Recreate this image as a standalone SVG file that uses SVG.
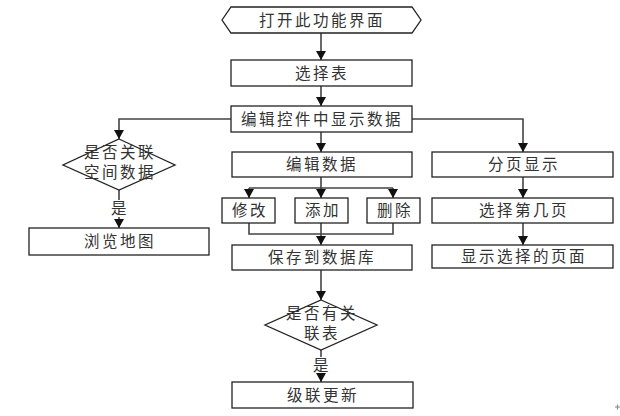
<svg xmlns="http://www.w3.org/2000/svg" width="620" height="416" viewBox="0 0 620 416">
<defs>
<marker id="arr" markerUnits="userSpaceOnUse" markerWidth="9" markerHeight="10" refX="9" refY="5" orient="auto" viewBox="0 0 9 10">
<path d="M0,0 L9,5 L0,10 Z" fill="#111"/>
</marker>
<style>
.n{fill:#fff;stroke:#222;stroke-width:1.3}
.t{font-family:"Noto Sans CJK SC","Noto Sans CJK JP",sans-serif;font-size:15.5px;fill:#333;text-anchor:middle;letter-spacing:2.5px}
.c{fill:none;stroke:#444;stroke-width:1.6}
.a{marker-end:url(#arr)}
</style>
</defs>
<rect width="620" height="416" fill="#fff"/>
<g id="connectors">
<path class="c a" d="M321,33 V60"/>
<path class="c a" d="M321,86 V106"/>
<path class="c a" d="M231,119 H119 V139"/>
<path class="c a" d="M412,119 H523 V152"/>
<path class="c a" d="M321,132 V152"/>
<path class="c" d="M119,190 V200"/>
<path class="c a" d="M119,217 V228"/>
<path class="c" d="M321,177 V188 M249,188 H393"/>
<path class="c a" d="M249,188 V198"/>
<path class="c a" d="M321,188 V198"/>
<path class="c a" d="M393,188 V198"/>
<path class="c" d="M249,223 V234 H393 V223"/>
<path class="c a" d="M321,223 V245"/>
<path class="c a" d="M321,270 V300"/>
<path class="c" d="M321,350 V357"/>
<path class="c a" d="M321,373 V382"/>
<path class="c a" d="M523,177 V198"/>
<path class="c a" d="M523,223 V245"/>
</g>
<g id="start">
<polygon class="n" points="222,20 231,7 412,7 421,20 412,33 231,33"/>
<text class="t" x="322" y="26">打开此功能界面</text>
</g>
<g id="select-table">
<rect class="n" x="231" y="60" width="181" height="26"/>
<text class="t" x="322" y="79">选择表</text>
</g>
<g id="show-data">
<rect class="n" x="231" y="106" width="181" height="26"/>
<text class="t" x="322" y="125">编辑控件中显示数据</text>
</g>
<g id="spatial-decision">
<polygon class="n" points="119,139 175,165 119,190 63,165"/>
<text class="t" x="120" y="158">是否关联</text>
<text class="t" x="120" y="178">空间数据</text>
</g>
<g id="yes1"><text class="t" x="120" y="214">是</text></g>
<g id="browse-map">
<rect class="n" x="29" y="228" width="180" height="27"/>
<text class="t" x="120" y="247">浏览地图</text>
</g>
<g id="edit-data">
<rect class="n" x="232" y="152" width="180" height="25"/>
<text class="t" x="322" y="170">编辑数据</text>
</g>
<g id="modify">
<rect class="n" x="222" y="198" width="53" height="25"/>
<text class="t" x="250" y="216">修改</text>
</g>
<g id="add">
<rect class="n" x="295" y="198" width="53" height="25"/>
<text class="t" x="323" y="216">添加</text>
</g>
<g id="delete">
<rect class="n" x="367" y="198" width="53" height="25"/>
<text class="t" x="395" y="216">删除</text>
</g>
<g id="save">
<rect class="n" x="232" y="245" width="180" height="25"/>
<text class="t" x="322" y="263">保存到数据库</text>
</g>
<g id="related-decision">
<polygon class="n" points="321,300 377,325 321,350 265,325"/>
<text class="t" x="322" y="319">是否有关</text>
<text class="t" x="322" y="339">联表</text>
</g>
<g id="yes2"><text class="t" x="322" y="371">是</text></g>
<g id="cascade">
<rect class="n" x="232" y="382" width="181" height="26"/>
<text class="t" x="323" y="401">级联更新</text>
</g>
<g id="paging">
<rect class="n" x="432" y="152" width="181" height="25"/>
<text class="t" x="524" y="170">分页显示</text>
</g>
<g id="choose-page">
<rect class="n" x="432" y="198" width="181" height="25"/>
<text class="t" x="524" y="216">选择第几页</text>
</g>
<g id="show-page">
<rect class="n" x="432" y="245" width="181" height="23"/>
<text class="t" x="524" y="262">显示选择的页面</text>
</g>
<path d="M615,407 H620 M617.5,404.5 V409.5" stroke="#888" stroke-width="1.2" fill="none"/>
</svg>
